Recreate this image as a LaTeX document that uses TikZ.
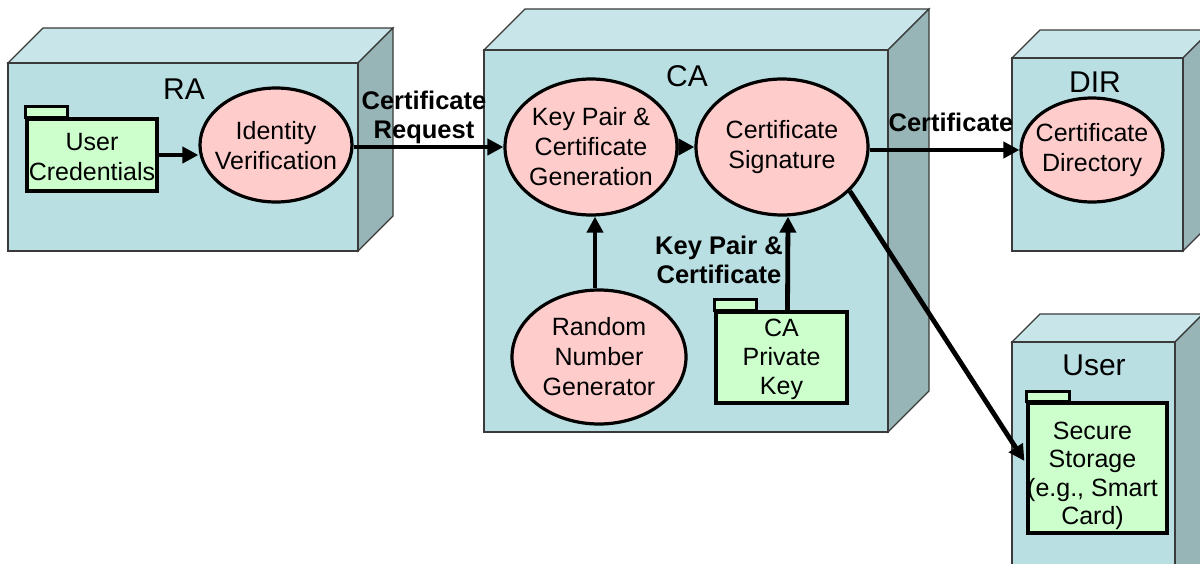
\documentclass[tikz,border=0pt]{standalone}
\usepackage{fontspec}
\setmainfont{Liberation Sans}
\usetikzlibrary{shapes.geometric,arrows.meta,calc}
\definecolor{cubefront}{HTML}{B9DFE3}
\definecolor{cubetop}{HTML}{C8E6E9}
\definecolor{cubeside}{HTML}{97B4B6}
\definecolor{cubeline}{HTML}{3A3A3A}
\definecolor{procfill}{HTML}{FFCCCC}
\definecolor{foldfill}{HTML}{CCFFCC}
\newcommand\mycube[5]{% x0 y0 x1 y1 depth
  \fill[cubetop,draw=cubeline,line width=1.2pt] (#1,#2) -- (#1+#5,#2-#5) -- (#3+#5,#2-#5) -- (#3,#2) -- cycle;
  \fill[cubeside,draw=cubeline,line width=1.2pt] (#3,#2) -- (#3+#5,#2-#5) -- (#3+#5,#4-#5) -- (#3,#4) -- cycle;
  \fill[cubefront,draw=cubeline,line width=1.2pt] (#1,#2) rectangle (#3,#4);
}
\tikzset{
  proc/.style={ellipse,draw=black,line width=3.2pt,fill=procfill,inner sep=0pt},
  ptext/.style={align=center,inner sep=0pt,font=\fontsize{25}{30}\selectfont},
  folder/.style={rectangle,draw=black,line width=3.2pt,fill=foldfill,inner sep=0pt},
  foldtab/.style={draw=black,line width=3.2pt,fill=foldfill},
  title/.style={font=\fontsize{30}{36}\selectfont,inner sep=0pt},
  flowlabel/.style={font=\bfseries\fontsize{25.5}{29}\selectfont,align=center,inner sep=0pt},
  flow/.style={line width=4.8pt,-{Triangle[length=16pt,width=16pt]}},
}
\begin{document}
\begin{tikzpicture}[x=1pt,y=-1pt]
\useasboundingbox (0,0) rectangle (1200,563);
\clip (0,0) rectangle (1200,563);
% cubes
\mycube{8}{63}{358}{251}{35}
\mycube{484}{50}{888}{432}{41}
\mycube{1012}{58}{1183}{251}{28}
\mycube{1012}{342}{1175}{600}{28}
% titles
\node[title] (tRA) at (184,89) {RA};
\node[title] (tCA) at (687,76) {CA};
\node[title] (tDIR) at (1095,82) {DIR};
\node[title] (tUser) at (1094,365) {User};
% processes
\node[proc,minimum width=152pt,minimum height=114pt,
  label={[ptext,yshift=-1pt]center:Identity\\Verification}] (iv) at (276,145) {};
\node[proc,minimum width=172pt,minimum height=136pt,
  label={[ptext]center:Key Pair \&\\Certificate\\Generation}] (kp) at (591,147) {};
\node[proc,minimum width=172pt,minimum height=136pt,
  label={[ptext]center:Certificate\\Signature}] (sig) at (782,147) {};
\node[proc,minimum width=174pt,minimum height=134pt,
  label={[ptext]center:Random\\Number\\Generator}] (rng) at (599,357) {};
\node[proc,minimum width=142pt,minimum height=104pt,
  label={[ptext]center:Certificate\\Directory}] (dir) at (1092,150) {};
% folders
\node[folder,minimum width=130pt,minimum height=72pt,
  label={[ptext,yshift=-2pt]center:User\\Credentials}] (uc) at (92,155) {};
\draw[foldtab] (uc.north west) rectangle ++(42,-11);
\node[folder,minimum width=131pt,minimum height=91pt,
  label={[ptext,font=\fontsize{25}{29}\selectfont,yshift=-2pt]center:CA\\Private\\Key}] (pk) at (781.5,357.5) {};
\draw[foldtab] (pk.north west) rectangle ++(42,-11);
\node[folder,minimum width=139pt,minimum height=130pt,
  label={[ptext,font=\fontsize{25}{28.5}\selectfont,yshift=-8pt,xshift=-5pt]center:Secure\\Storage\\(e.g., Smart\\Card)}] (ss) at (1097.5,468) {};
\draw[foldtab] (ss.north west) rectangle ++(43,-10);
% flows
\draw[flow] (uc.east) -- (uc.east -| iv.west);
\draw[flow] (iv.east |- kp.west) -- (kp.west);
\draw[flow] (kp.east) -- (sig.west);
\draw[flow] (sig.east |- dir.west) -- (dir.west);
\draw[flow] ([xshift=-4pt]rng.north) -- ([xshift=-4pt]rng.north |- kp.south);
\draw[flow] ([xshift=6pt]pk.north) -- ([xshift=6pt]sig.south);
\draw[flow] (sig.-33) -- ([yshift=7pt,xshift=-2pt]ss.west);
% flow labels
\node[flowlabel] (lreq) at (424,117) {Certificate\\Request};
\node[flowlabel] (lkp) at (719,260) {Key Pair \&\\Certificate};
\node[flowlabel] (lcert) at (951,122) {Certificate};
\end{tikzpicture}
\end{document}
